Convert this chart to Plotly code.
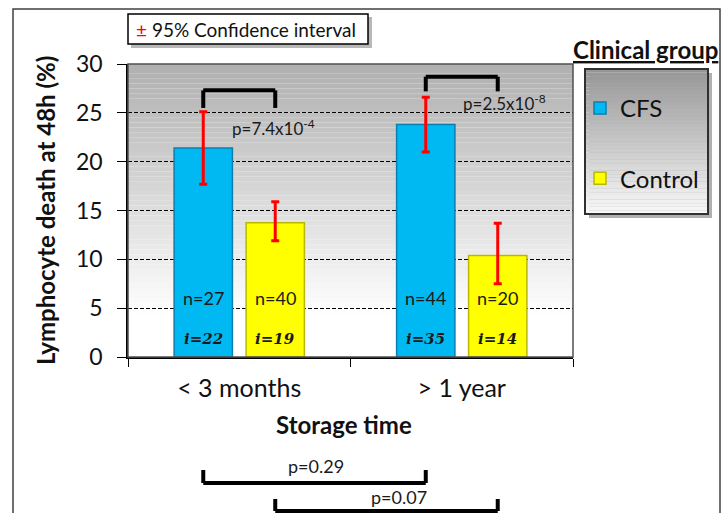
import plotly.graph_objects as go

# ---------------- data ----------------
categories = ["< 3 months", "> 1 year"]
cfs_mean = [21.4, 23.8]
cfs_ci_upper = [25.1, 26.6]
cfs_ci_lower = [17.7, 21.0]
ctrl_mean = [13.75, 10.4]
ctrl_ci_upper = [15.9, 13.7]
ctrl_ci_lower = [11.9, 7.5]
cfs_n = [27, 44]
ctrl_n = [40, 20]
cfs_i = [22, 35]
ctrl_i = [19, 14]
within_p = ["p=7.4x10<sup>-4</sup>", "p=2.5x10<sup>-8</sup>"]
across_p = ["p=0.29", "p=0.07"]   # CFS across storage, Control across storage
y_ticks = [0, 5, 10, 15, 20, 25, 30]

FONT = "Lato"
W, H = 721, 513
ML, MR, MT, MB = 128, 148, 64, 156
PW, PH = W - ML - MR, H - MT - MB


def px(x):
    return (x - ML) / PW


def py(y):
    return (H - MB - y) / PH


BARGAP = 0.353
OFF = (1 - BARGAP) / 4  # centre offset of each bar in a group


def mix(c1, c2, t):
    return "rgb(%d,%d,%d)" % tuple(round(a + (b - a) * t) for a, b in zip(c1, c2))


fig = go.Figure()
fig.add_trace(go.Bar(
    x=categories, y=cfs_mean, name="CFS", legendgroup="CFS",
    marker=dict(color="#00B9F2", line=dict(color="#0A7FAE", width=1.5)),
    error_y=dict(type="data", symmetric=False,
                 array=[u - m for u, m in zip(cfs_ci_upper, cfs_mean)],
                 arrayminus=[m - l for m, l in zip(cfs_mean, cfs_ci_lower)],
                 color="#FF0000", thickness=3, width=4),
))
fig.add_trace(go.Bar(
    x=categories, y=ctrl_mean, name="Control", legendgroup="Control",
    marker=dict(color="#FFFF00", line=dict(color="#B8B800", width=1.5)),
    error_y=dict(type="data", symmetric=False,
                 array=[u - m for u, m in zip(ctrl_ci_upper, ctrl_mean)],
                 arrayminus=[m - l for m, l in zip(ctrl_mean, ctrl_ci_lower)],
                 color="#FF0000", thickness=3, width=4),
))

shapes = []
# plot-area gradient background (stepped)
N = 60
top_c, bot_c = (176, 176, 176), (255, 255, 255)
for k in range(N):
    t = k / (N - 1)
    shapes.append(dict(type="rect", xref="x domain", yref="y domain",
                       x0=0, x1=1, y0=1 - (k + 1) / N, y1=1 - k / N,
                       fillcolor=mix(top_c, bot_c, min(1, t * 1.15)),
                       line=dict(width=0), layer="below"))
# plot border (top/right)
shapes.append(dict(type="rect", xref="x domain", yref="y domain", x0=0, x1=1, y0=0, y1=1,
                   line=dict(color="#505050", width=1.5), layer="above"))

# outer frame
shapes.append(dict(type="rect", xref="paper", yref="paper",
                   x0=px(13), x1=px(720), y0=py(530), y1=py(9),
                   line=dict(color="#404040", width=1.5)))

# CI legend box with shadow
shapes.append(dict(type="rect", xref="paper", yref="paper",
                   x0=px(131), x1=px(372), y0=py(48), y1=py(17),
                   fillcolor="#b8b8b8", line=dict(width=0)))
shapes.append(dict(type="rect", xref="paper", yref="paper",
                   x0=px(128), x1=px(368), y0=py(44), y1=py(14),
                   fillcolor="white", line=dict(color="black", width=1.5)))

# legend box with shadow and gradient
lx0, lx1, ly0, ly1 = 585, 708, 69, 214
shapes.append(dict(type="rect", xref="paper", yref="paper",
                   x0=px(lx0 + 4), x1=px(lx1 + 4), y0=py(ly1 + 4), y1=py(ly0 + 4),
                   fillcolor="#b0b0b0", line=dict(width=0)))
NL = 40
for k in range(NL):
    t = k / (NL - 1)
    ya = ly0 + (ly1 - ly0) * k / NL
    yb = ly0 + (ly1 - ly0) * (k + 1) / NL
    shapes.append(dict(type="rect", xref="paper", yref="paper",
                       x0=px(lx0), x1=px(lx1), y0=py(yb), y1=py(ya),
                       fillcolor=mix((150, 150, 150), (248, 248, 248), t),
                       line=dict(width=0)))
shapes.append(dict(type="rect", xref="paper", yref="paper",
                   x0=px(lx0), x1=px(lx1), y0=py(ly1), y1=py(ly0),
                   line=dict(color="#303030", width=2)))

# within-storage brackets (CFS vs Control)
bracket_top = [27.3, 28.7]
bracket_leg = [25.5, 27.2]
for i in range(len(categories)):
    xa, xb = i - OFF, i + OFF
    for (x0, y0, x1, y1) in [(xa, bracket_leg[i], xa, bracket_top[i]),
                             (xa, bracket_top[i], xb, bracket_top[i]),
                             (xb, bracket_top[i], xb, bracket_leg[i])]:
        shapes.append(dict(type="line", xref="x", yref="y", x0=x0, x1=x1, y0=y0, y1=y1,
                           line=dict(color="black", width=4)))

# across-storage brackets (below the axis)
low_h = [py(483), py(511)]
low_leg = [py(470), py(499)]
for g, sgn in enumerate([-1, 1]):
    xa, xb = 0 + sgn * OFF, 1 + sgn * OFF
    for (x0, y0, x1, y1) in [(xa, low_leg[g], xa, low_h[g]),
                             (xa, low_h[g], xb, low_h[g]),
                             (xb, low_h[g], xb, low_leg[g])]:
        shapes.append(dict(type="line", xref="x", yref="paper", x0=x0, x1=x1, y0=y0, y1=y1,
                           line=dict(color="black", width=4)))

annotations = []


def ann(**kw):
    kw.setdefault("showarrow", False)
    kw.setdefault("xanchor", "center")
    kw.setdefault("yanchor", "middle")
    annotations.append(kw)


# n= and i= labels inside bars
for g, (ns, iis) in enumerate([(cfs_n, cfs_i), (ctrl_n, ctrl_i)]):
    sgn = -1 if g == 0 else 1
    for c in range(len(categories)):
        ann(x=c + sgn * OFF, y=6.0, xref="x", yref="y", text=f"n={ns[c]}",
            font=dict(family=FONT, size=18, color="#1a1a1a"))
        ann(x=c + sgn * OFF, y=1.85, xref="x", yref="y",
            text=f"<b><i>i={iis[c]}</i></b>",
            font=dict(family="DejaVu Serif", size=15, color="#1a1a1a"))
# p-values within storage
p_pos = [(0.153, 23.5), (1.19, 26.1)]
for c in range(len(categories)):
    ann(x=p_pos[c][0], y=p_pos[c][1], xref="x", yref="y", text=within_p[c],
        font=dict(family=FONT, size=17, color="#1a1a1a"))
# p-values across storage
ann(x=px(316), y=py(466), xref="paper", yref="paper", text=across_p[0],
    font=dict(family=FONT, size=18, color="#1a1a1a"))
ann(x=px(399), y=py(497), xref="paper", yref="paper", text=across_p[1],
    font=dict(family=FONT, size=18, color="#1a1a1a"))
# axis titles
ann(x=px(45), y=py(211), xref="paper", yref="paper", textangle=-90,
    text="<b>Lymphocyte death at 48h (%)</b>",
    font=dict(family=FONT, size=24, color="#111"))
ann(x=px(344), y=py(425), xref="paper", yref="paper",
    text="<b>Storage time</b>", font=dict(family=FONT, size=24, color="#111"))
# legend title
ann(x=px(645), y=py(50), xref="paper", yref="paper",
    text="<b><u>Clinical group</u></b>", font=dict(family=FONT, size=24, color="#111"))
# CI legend text
ann(x=px(246), y=py(29), xref="paper", yref="paper",
    text='<span style="color:#FF0000">±</span> 95% Confidence interval',
    font=dict(family=FONT, size=19, color="#111"))

fig.update_layout(
    width=W, height=H, margin=dict(l=ML, r=MR, t=MT, b=MB, autoexpand=False),
    paper_bgcolor="white", plot_bgcolor="rgba(0,0,0,0)",
    barmode="group", bargap=BARGAP, bargroupgap=0.19,
    font=dict(family=FONT, color="#111"),
    showlegend=True,
    legend=dict(x=px(580), y=py(86), xanchor="left", yanchor="top",
                bgcolor="rgba(0,0,0,0)", font=dict(family=FONT, size=24, color="#111"),
                traceorder="grouped", tracegroupgap=36, itemwidth=30),
    shapes=shapes, annotations=annotations,
    xaxis=dict(type="category", showline=True, linecolor="black", linewidth=2,
               ticks="outside", tickson="boundaries", ticklen=8, tickcolor="black",
               tickfont=dict(family=FONT, size=25, color="#111"), ticklabelstandoff=8,
               showgrid=False, fixedrange=True),
    yaxis=dict(range=[0, 30], tickvals=y_ticks, showline=True, linecolor="black", linewidth=1.5,
               ticks="outside", ticklen=9, tickcolor="black",
               tickfont=dict(family=FONT, size=23, color="#111"), ticklabelstandoff=10,
               showgrid=True, gridcolor="black", gridwidth=1, griddash="4px,2px",
               zeroline=False, fixedrange=True),
)

fig.write_html("out.html")
